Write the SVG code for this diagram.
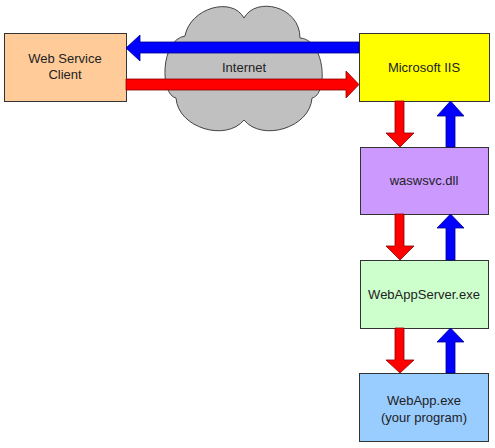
<svg xmlns="http://www.w3.org/2000/svg" width="495" height="448" viewBox="0 0 495 448">
<style>
.box{stroke:#333;stroke-width:1}
.t{font-family:"Liberation Sans",Arial,sans-serif;font-size:13px;fill:#222;text-anchor:middle}
.red{fill:#FF0000;stroke:#8B0000;stroke-width:0.8}
.blue{fill:#0000FF;stroke:#00008B;stroke-width:0.8}
</style>
<rect width="495" height="448" fill="#fff"/>
<g id="internet">
<path d="M185,36 C190,8 232,-4 244,18 C256,-4 300,6 300,38 C326,40 328,95 312,98 C310,128 262,142 244,120 C226,142 178,128 176,98 C160,95 160,40 185,36 Z" fill="#C0C0C0" stroke="#444" stroke-width="1"/>
<text class="t" x="244" y="72">Internet</text>
</g>
<g id="client">
<rect class="box" x="4.5" y="33.5" width="122" height="68" fill="#FFCC99"/>
<text class="t" x="65" y="63">Web Service</text>
<text class="t" x="65" y="79">Client</text>
</g>
<g id="iis">
<rect class="box" x="359.5" y="33.5" width="130" height="68" fill="#FFFF00"/>
<text class="t" x="424" y="72">Microsoft IIS</text>
</g>
<g id="waswsvc">
<rect class="box" x="360.5" y="147.5" width="128" height="67" fill="#CC99FF"/>
<text class="t" x="424" y="185">waswsvc.dll</text>
</g>
<g id="webappserver">
<rect class="box" x="360.5" y="260.5" width="128" height="68" fill="#CCFFCC"/>
<text class="t" x="424" y="299">WebAppServer.exe</text>
</g>
<g id="webapp">
<rect class="box" x="359.5" y="373.5" width="129" height="68" fill="#99CCFF"/>
<text class="t" x="424" y="405">WebApp.exe</text>
<text class="t" x="424" y="422">(your program)</text>
</g>
<g id="connectors">
<polygon class="blue" points="359,42 140,42 140,35 126,48 140,61 140,53 359,53"/>
<polygon class="red" points="126,79 346,79 346,71 359,84.5 346,98 346,90 126,90"/>
<polygon class="red" points="395,101 404,101 404,133 414,133 400,147 386,133 395,133"/>
<polygon class="blue" points="446,147 455,147 455,116 464,116 450.5,101 437,116 446,116"/>
<polygon class="red" points="395,214 404,214 404,246 414,246 400,260 386,246 395,246"/>
<polygon class="blue" points="446,260 455,260 455,228 464,228 450.5,214 437,228 446,228"/>
<polygon class="red" points="395,328 404,328 404,360 414,360 400,373 386,360 395,360"/>
<polygon class="blue" points="446,373 455,373 455,342 464,342 450.5,328 437,342 446,342"/>
</g>
</svg>
